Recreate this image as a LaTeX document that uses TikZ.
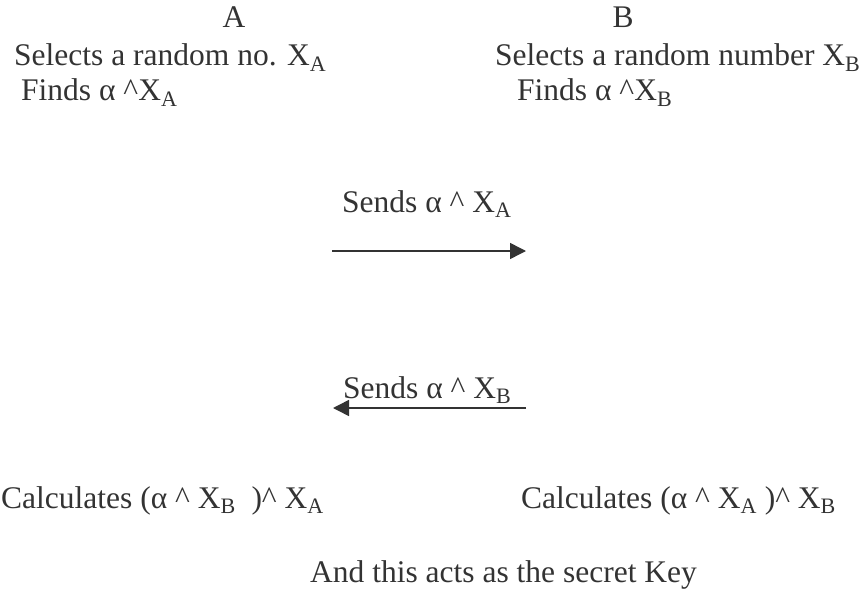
\documentclass[tikz,border=0pt]{standalone}
\usepackage{fontspec}
\setmainfont{Liberation Serif}
\usetikzlibrary{arrows.meta}
\definecolor{ink}{HTML}{333333}
\tikzset{
  txt/.style={inner sep=0pt,anchor=base west,text=ink,font=\fontsize{31.5}{36}\selectfont},
  msg/.style={draw=ink,line width=1.5pt,-{Triangle[length=16pt,width=16pt]}}
}
\newcommand{\pw}{\textasciicircum}
\begin{document}
\begin{tikzpicture}[x=1pt,y=-1pt]
                    \useasboundingbox (0,0) rectangle (867,591);
                    % the two parties
                    \node[txt,anchor=base] (pa) at (234,28) {A};
                    \node[txt,anchor=base] (pb) at (623,28) {B};
                    \node[txt] (selA) at (14,66) {Selects a random no. X\textsubscript{A}};
                    \node[txt] (findA) at (21,101) {Finds α \pw X\textsubscript{A}};
                    \node[txt] (selB) at (495,66) {Selects a random number X\textsubscript{B}};
                    \node[txt] (findB) at (517,101) {Finds α \pw X\textsubscript{B}};
                    % exchanged values
                    \node[txt] (sendA) at (342,212) {Sends α \pw{} X\textsubscript{A}};
                    \coordinate (l1) at (332,251);\coordinate (r1) at (526,251);
                    \draw[msg] (l1) -- (r1);
                    \node[txt] (sendB) at (343,398) {Sends α \pw{} X\textsubscript{B}};
                    \coordinate (l2) at (333,408);\coordinate (r2) at (526,408);
                    \draw[msg] (r2) -- (l2);
                    % shared key
                    \node[txt] (calcA) at (1,508) {Calculates (α \pw{} X\textsubscript{B}\ \ )\pw{} X\textsubscript{A}};
                    \node[txt] (calcB) at (521,508) {Calculates (α \pw{} X\textsubscript{A} )\pw{} X\textsubscript{B}};
                    \node[txt] (key) at (310,582) {And this acts as the secret Key};
                  \end{tikzpicture}
\end{document}
